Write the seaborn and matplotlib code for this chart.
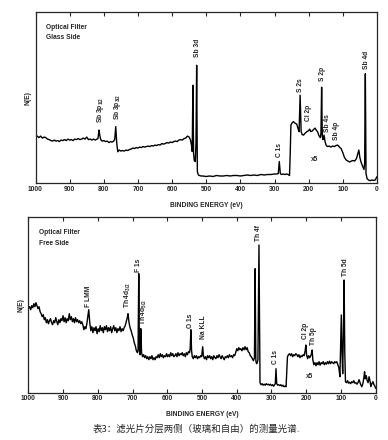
import pandas as pd
import matplotlib.pyplot as plt
import seaborn as sns

# Glass side spectrum: binding energy (eV) and N(E) (arbitrary units)
glass_ev = [1000, 995, 990, 985, 980, 975, 970, 965, 960, 955, 950, 945, 940, 935, 930, 925, 920, 915,
            910, 905, 900, 895, 890, 885, 880, 875, 870, 865, 860, 855, 850, 845, 840, 835, 830, 825,
            820, 817, 814, 812, 809, 805, 800, 795, 790, 785, 780, 776, 771, 768, 765, 762, 759, 755,
            750, 745, 740, 735, 730, 725, 720, 715, 710, 705, 700, 695, 690, 685, 680, 675, 670, 665,
            660, 655, 650, 645, 640, 635, 630, 625, 620, 615, 610, 605, 600, 595, 590, 585, 580, 575,
            570, 565, 560, 555, 550, 546, 543, 541, 539, 537, 535, 532, 530, 528, 526, 523, 520, 515,
            510, 500, 490, 480, 470, 460, 450, 440, 430, 420, 410, 400, 390, 380, 370, 360, 350, 340,
            330, 320, 310, 300, 293, 289, 286, 283, 280, 275, 270, 265, 260, 256, 254, 252, 248, 245,
            240, 235, 231, 228, 225, 222, 219, 215, 210, 205, 200, 197, 194, 190, 186, 181, 177, 174,
            170, 166, 164, 162, 160, 158, 155, 152, 149, 145, 140, 135, 130, 125, 120, 115, 110, 105,
            100, 95, 90, 85, 80, 75, 70, 65, 60, 56, 53, 50, 47, 44, 41, 38, 36, 34, 32, 29,
            25, 20, 15, 10, 5, 0]
glass_ne = [46.5, 47.5, 46, 47.5, 45.5, 46.5, 46, 44.5, 44, 43, 42.5, 43.5, 42.5, 43, 42, 43.5, 43, 44,
            43, 44.5, 43.5, 44, 43, 44.5, 44, 45, 44, 44.5, 45.5, 44.5, 46.5, 44, 44.5, 43.5, 44.5, 43.5,
            44.5, 45, 53.5, 49, 44, 42.5, 43, 42, 42.5, 41, 42, 41.5, 42.5, 44, 57, 40, 31.8, 33.5,
            32.5, 33, 32.5, 33.5, 33, 34, 34.5, 35.5, 35, 36, 35.5, 36.5, 36, 37, 36.5, 37, 37.5, 37,
            38, 37.5, 38.5, 38, 39, 38.5, 40, 39.5, 40, 41, 40.5, 41.5, 41, 42, 42.5, 42, 43.5, 44,
            43.5, 45, 45.5, 47.5, 46.5, 43.5, 38, 32, 98.5, 30, 23, 22, 40, 118.5, 12, 8.5, 8, 7.5,
            7.5, 7, 7.5, 7, 8, 7.5, 7.5, 8, 7.5, 8, 8, 7.5, 8, 8.5, 8, 8.5, 8, 9,
            8.5, 9, 9, 9.5, 9.5, 10, 22, 10, 9, 9.5, 9, 9.5, 9, 8, 30, 58.5, 61, 62,
            60.5, 59.5, 55, 52, 88.5, 52, 49, 48.5, 50.5, 52, 53, 54.5, 52, 52.5, 54, 55.5, 53, 52,
            48, 46, 50, 96.5, 47, 44, 48.5, 42, 38.5, 37, 37.5, 36.5, 37.5, 37, 38, 38.5, 36.5, 35,
            31, 26, 23.5, 22.5, 21.5, 22.5, 23, 22.5, 25, 30, 33.5, 26, 22, 19, 16.5, 14, 20, 110, 10, 5,
            3.5, 2.8, 3.5, 3, 3.5, 6.8]

# Free side spectrum
free_ev = [1000, 996, 993, 990, 987, 984, 981, 978, 975, 972, 969, 966, 963, 960, 957, 954, 951, 948,
           945, 942, 939, 936, 933, 930, 927, 924, 921, 918, 915, 912, 909, 906, 903, 900, 897, 894,
           891, 888, 885, 882, 879, 876, 873, 870, 867, 864, 861, 858, 855, 852, 849, 846, 843, 840,
           837, 834, 831, 828, 826, 823, 820, 817, 814, 811, 808, 805, 802, 799, 796, 793, 790, 787,
           784, 781, 778, 775, 772, 769, 766, 763, 760, 757, 754, 751, 748, 745, 742, 739, 736, 733,
           730, 727, 724, 721, 718, 715, 713, 710, 707, 704, 701, 698, 695, 692, 689, 686, 684, 682,
           680, 678, 676, 674, 671, 668, 665, 662, 659, 656, 653, 650, 647, 644, 641, 638, 635, 632,
           629, 626, 623, 620, 617, 614, 611, 608, 605, 602, 599, 596, 593, 590, 587, 584, 581, 578,
           575, 572, 569, 566, 563, 560, 557, 554, 551, 548, 545, 542, 539, 536, 534, 532, 530, 528,
           525, 522, 519, 516, 513, 510, 507, 504, 501, 498, 496, 493, 490, 487, 484, 481, 478, 475,
           472, 469, 466, 463, 460, 457, 454, 451, 448, 445, 442, 439, 436, 433, 430, 427, 424, 421,
           418, 415, 412, 409, 406, 403, 400, 397, 394, 391, 388, 385, 382, 379, 376, 373, 370, 367,
           364, 361, 358, 355, 352, 349, 347, 345, 343, 341, 339, 336, 333, 330, 327, 324, 321, 318,
           315, 312, 309, 306, 303, 300, 297, 294, 291, 289, 287, 285, 282, 279, 276, 273, 270, 267,
           264, 261, 258, 256, 254, 251, 248, 245, 242, 239, 236, 233, 230, 227, 224, 221, 218, 215,
           212, 209, 206, 203, 201, 199, 196, 193, 190, 187, 185, 183, 181, 178, 175, 172, 169, 166,
           163, 160, 157, 154, 151, 148, 145, 142, 139, 136, 133, 130, 127, 124, 121, 118, 115, 112,
           109, 106, 103, 101, 99, 97, 95, 93, 91, 89, 87, 84, 81, 78, 75, 72, 69, 66,
           63, 60, 57, 54, 51, 48, 46, 43, 40, 37, 34, 32, 30, 27, 25, 22, 19, 16,
           14, 11, 8, 5, 3, 0]
free_ne = [84, 86, 83, 87, 85, 89, 86, 90, 87, 84, 86, 81, 79, 76, 78, 73, 75, 70,
           73, 69, 72, 74, 70, 68, 72, 70, 75, 71, 68, 73, 70, 74, 72, 77, 71, 75,
           70, 74, 72, 79, 73, 76, 71, 74, 70, 75, 71, 73, 70, 72, 69, 71, 68, 63,
           66, 64, 70, 78, 83, 70, 62, 66, 60, 65, 62, 66, 59, 64, 61, 67, 62, 65,
           60, 66, 63, 67, 61, 65, 62, 66, 60, 64, 67, 62, 65, 60, 64, 62, 66, 61,
           64, 62, 65, 67, 71, 75, 79, 70, 65, 62, 58, 55, 50, 47, 42, 40, 43, 119,
           41, 38, 64, 40, 36, 38, 35, 37, 34, 36, 33, 36, 34, 37, 33, 35, 33, 36,
           35, 38, 35, 39, 36, 38, 35, 37, 36, 39, 36, 38, 36, 40, 37, 39, 36, 37,
           39, 36, 40, 37, 39, 38, 40, 37, 39, 36, 40, 38, 41, 40, 44, 63, 42, 36,
           34, 37, 35, 37, 34, 36, 35, 37, 36, 46, 37, 34, 36, 33, 37, 35, 37, 34,
           36, 33, 37, 35, 34, 37, 35, 38, 36, 34, 37, 35, 33, 36, 35, 37, 35, 38,
           36, 37, 35, 38, 37, 40, 44, 42, 45, 43, 44, 42, 45, 43, 46, 43, 45, 41,
           40, 37, 36, 34, 32, 35, 124, 32, 29, 30, 33, 147.7, 10, 8, 9, 7.5, 8.5, 7.5,
           9, 8, 8.5, 7.5, 8.5, 7, 8, 6.5, 8, 9, 24, 9, 7.5, 8, 7, 8, 6.5, 7.5,
           6, 6.5, 6, 20, 36, 38, 39, 37, 39, 36, 38, 37, 39, 38, 36, 38, 35, 37,
           36, 38, 37, 42, 47.7, 38, 34, 37, 35, 37, 39, 42.7, 33, 28, 30, 27, 30, 28,
           31, 27.5, 30, 29, 31, 28, 30, 28.5, 31, 29, 31.5, 29, 31, 30, 29, 31, 30, 31,
           28, 25, 16, 45, 77.7, 40, 19, 60, 112.7, 40, 11, 10, 12, 9.5, 10.5, 9, 11, 10,
           12, 9.5, 10, 8.5, 10, 13, 11, 8, 6, 9, 15, 21, 14, 17, 12.7, 10, 16, 11,
           6, 9, 11, 8, 7, 4.4]

# peak labels: (text, eV, N(E))
glass_labels = [('Sb 3p$_{1/2}$', 811, 74), ('Sb 3p$_{3/2}$', 761, 77), ('Sb 3d', 527, 136),
                ('S 2s', 225, 99), ('Cl 2p', 199, 71), ('S 2p', 158, 110), ('Sb 4s', 146, 61),
                ('Sb 4p', 117, 53), ('Sb 4d', 32, 124), ('C 1s', 284, 34)]
free_labels = [('F LMM', 828, 96), ('Th 4d$_{3/2}$', 713, 98), ('F 1s', 684, 127),
               ('Th 4d$_{5/2}$', 667, 81), ('O 1s', 532, 72), ('Na KLL', 497, 66),
               ('Th 4f', 336, 160), ('C 1s', 287, 36), ('Cl 2p', 203, 62), ('Th 5p', 180, 57),
               ('Th 5d', 88, 126)]

sns.set_style('ticks')
plt.rcParams['font.family'] = ['Liberation Sans', 'Noto Sans CJK SC', 'DejaVu Sans']
plt.rcParams['mathtext.fontset'] = 'custom'
plt.rcParams['mathtext.rm'] = 'Liberation Sans:bold'
plt.rcParams['mathtext.default'] = 'rm'

fig = plt.figure(figsize=(3.88, 4.40), dpi=100)
ax1 = fig.add_axes([0.0915, 0.583, 0.880, 0.390])
ax2 = fig.add_axes([0.0729, 0.1075, 0.8954, 0.400])


def draw(ax, ev, ne, labels, title, ytop):
    df = pd.DataFrame({'ev': ev, 'ne': ne})
    sns.lineplot(x='ev', y='ne', data=df, ax=ax, color='black', linewidth=1.0, estimator=None)
    ax.set_xlim(1000, 0)
    ax.set_ylim(0, ytop)
    ax.set_xticks(range(0, 1001, 100))
    ax.set_xticklabels([str(v) for v in range(0, 1001, 100)], fontsize=4.8, fontweight='bold')
    ax.set_yticks([])
    ax.tick_params(axis='x', direction='in', top=True, length=3, width=0.8, pad=2)
    for s in ax.spines.values():
        s.set_linewidth(0.9)
    ax.set_xlabel('BINDING ENERGY (eV)', fontsize=4.8, fontweight='bold', labelpad=6)
    ax.set_ylabel('N(E)', fontsize=4.8, fontweight='bold', labelpad=3)
    ax.text(0.03, 0.93, 'Optical Filter\n' + title, transform=ax.transAxes, fontsize=4.8,
            fontweight='bold', va='top', linespacing=1.7)
    for txt, x, y in labels:
        ax.text(x, y, txt, rotation=90, fontsize=4.8, fontweight='bold', ha='center', va='center')


draw(ax1, glass_ev, glass_ne, glass_labels, 'Glass Side', 172)
ax1.text(184, 24, 'x5', fontsize=4.8, fontweight='bold', ha='center', va='center')
draw(ax2, free_ev, free_ne, free_labels, 'Free Side', 176)
ax2.text(189, 16, 'x5', fontsize=4.8, fontweight='bold', ha='center', va='center')

fig.text(0.507, 0.025, '表3：滤光片分层两侧（玻璃和自由）的测量光谱.', fontsize=6.8,
         family=['Noto Sans CJK SC', 'DejaVu Sans'], ha='center', va='center')

fig.savefig('out.png', dpi=100)
